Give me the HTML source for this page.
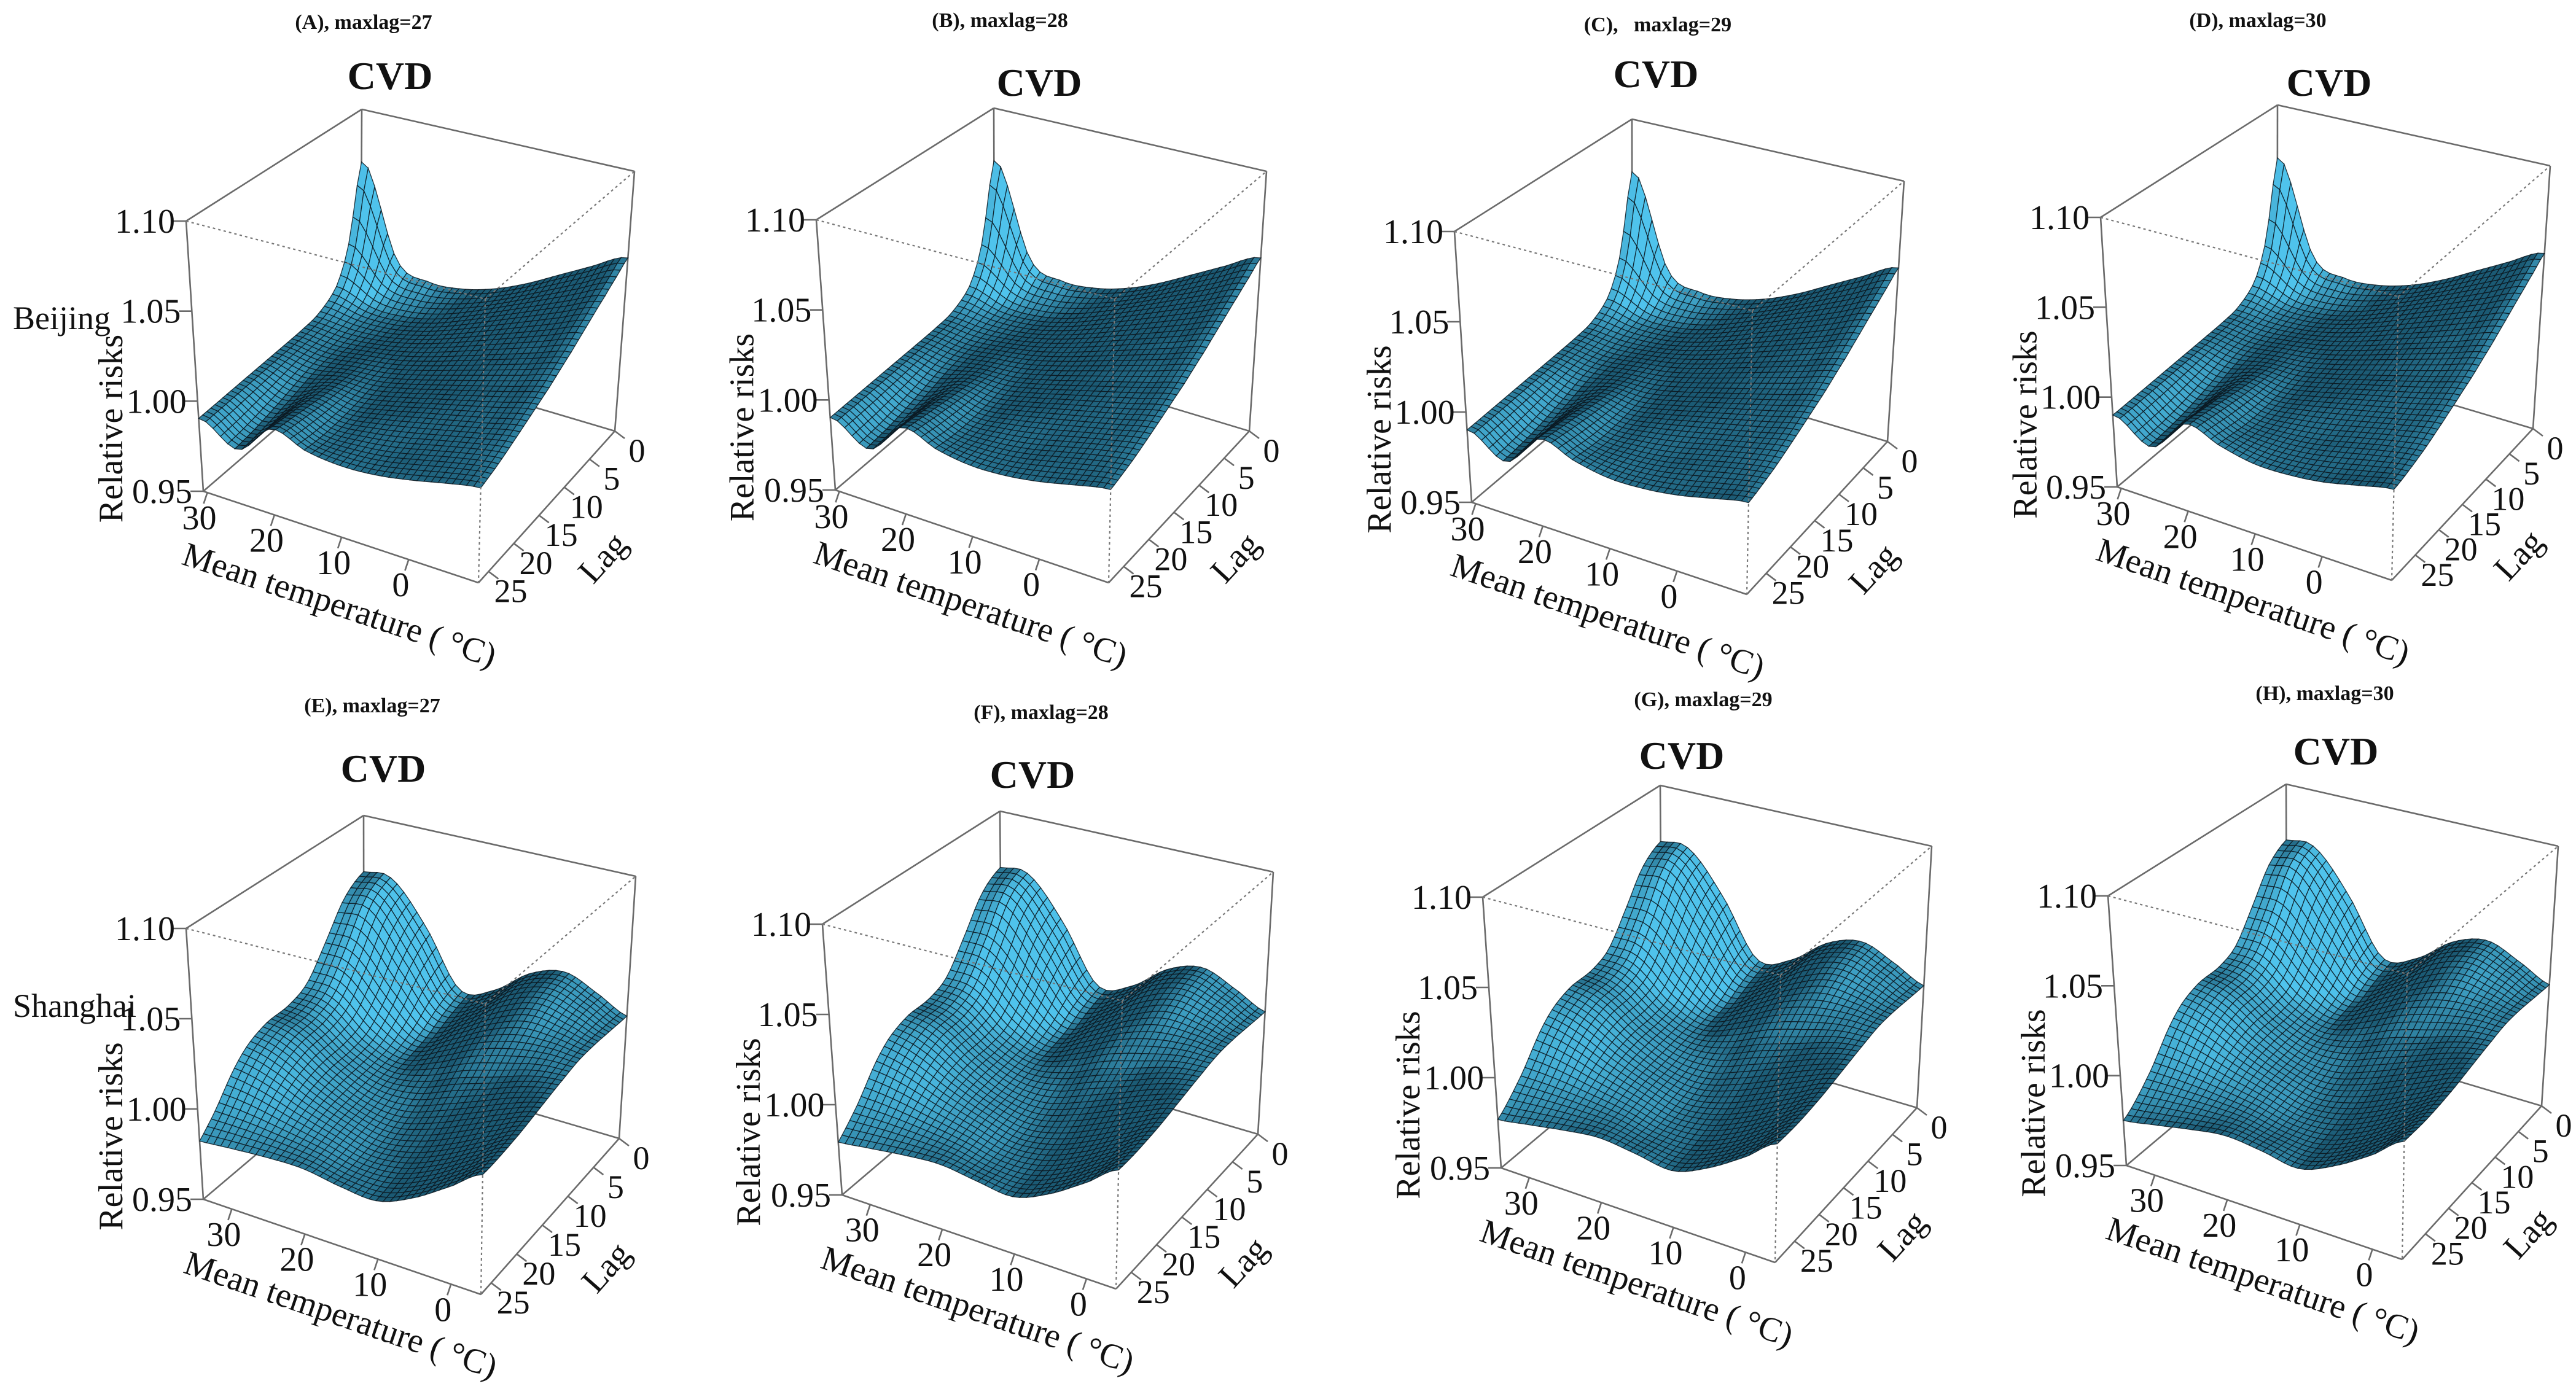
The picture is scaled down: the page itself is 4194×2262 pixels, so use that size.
<!DOCTYPE html>
<html>
<head>
<meta charset="utf-8">
<style>
  html,body{margin:0;padding:0;background:#fff;}
  svg{display:block;}
  text{font-family:"Liberation Serif","Times New Roman",serif;fill:#111;}
</style>
</head>
<body>
<svg id="fig" xmlns="http://www.w3.org/2000/svg" width="4194" height="2262" viewBox="0 0 4194 2262">
  <rect x="0" y="0" width="4194" height="2262" fill="#fff"/>
</svg>
<script>
// ---------- data: Beijing (rows = lags, columns = temperatures) ----------
const tempsBJ = [-10, -5, 0, 5, 10, 15, 20, 25, 30];
const lagsBJ  = [0, 2, 4, 7, 10, 14, 19, 24, 30];
const rrBJ = [
  [1.050,1.040,1.030,1.020,1.012,1.007,1.006,1.014,1.068],
  [1.045,1.036,1.027,1.018,1.010,1.004,1.001,1.004,1.024],
  [1.040,1.032,1.024,1.016,1.008,1.001,0.997,0.997,1.004],
  [1.033,1.026,1.019,1.012,1.005,0.999,0.995,0.994,0.996],
  [1.026,1.020,1.014,1.008,1.002,0.997,0.994,0.992,0.994],
  [1.018,1.013,1.008,1.003,0.998,0.994,0.993,0.990,0.993],
  [1.010,1.006,1.002,0.998,0.994,0.991,0.994,0.985,0.992],
  [1.003,1.000,0.996,0.992,0.990,0.990,0.996,0.981,0.991],
  [0.998,0.994,0.990,0.988,0.988,0.992,0.998,0.979,0.990]
];
// ---------- data: Shanghai ----------
const tempsSH = [-4, 0, 5, 10, 15, 20, 25, 30, 34];
const lagsSH  = [0, 3, 6, 9, 12, 16, 20, 25, 30];
const rrSH = [
  [1.020,1.028,1.036,1.030,1.015,1.010,1.042,1.066,1.066],
  [1.021,1.028,1.034,1.028,1.013,1.006,1.032,1.058,1.058],
  [1.022,1.026,1.029,1.022,1.010,1.000,1.016,1.038,1.040],
  [1.022,1.023,1.021,1.015,1.005,0.997,1.005,1.022,1.024],
  [1.020,1.018,1.012,1.006,0.998,0.995,1.002,1.016,1.019],
  [1.017,1.012,1.004,0.996,0.990,0.992,1.001,1.014,1.018],
  [1.014,1.006,0.996,0.988,0.985,0.990,0.997,1.006,1.010],
  [1.012,1.002,0.990,0.982,0.982,0.986,0.988,0.989,0.989],
  [1.012,1.000,0.988,0.980,0.983,0.985,0.982,0.978,0.975]
];
// ---------- tick labels ----------
const tempTicks = [30, 20, 10, 0];
const lagTicks  = [0, 5, 10, 15, 20, 25];
const rrTicks   = [0.95, 1.00, 1.05, 1.10];
const rrTickLabels = ["0.95", "1.00", "1.05", "1.10"];
const panelTitles = ["(A), maxlag=27","(B), maxlag=28","(C),   maxlag=29","(D), maxlag=30",
                     "(E), maxlag=27","(F), maxlag=28","(G), maxlag=29","(H), maxlag=30"];
const maxLags = [27, 28, 29, 30, 27, 28, 29, 30];

// ---------- layout (screen geometry of each perspective box) ----------
const layout = [
 {city:'BJ',label:'Beijing', t:[592,47], c:[635,145], Lt:[303,360],Bt:[589,178],Rt:[1033,279],Xt:[790,487],Lb:[331,800],Fb:[779,949],Rb:[1001,702]},
 {city:'BJ',label:null, t:[1628,44], c:[1692,156], Lt:[1329,358],Bt:[1618,176],Rt:[2062,279],Xt:[1815,487],Lb:[1360,798],Fb:[1805,949],Rb:[2034,702]},
 {city:'BJ',label:null, t:[2699,51], c:[2696,142], Lt:[2368,377],Bt:[2657,194],Rt:[3100,295],Xt:[2853,506],Lb:[2396,818],Fb:[2844,968],Rb:[3073,719]},
 {city:'BJ',label:null, t:[3676,44], c:[3792,156], Lt:[3420,354],Bt:[3708,171],Rt:[4152,270],Xt:[3905,483],Lb:[3447,793],Fb:[3894,945],Rb:[4124,698]},
 {city:'SH',label:'Shanghai', t:[606,1160], c:[624,1273], Lt:[303,1512],Bt:[592,1328],Rt:[1035,1427],Xt:[790,1635],Lb:[331,1953],Fb:[783,2108],Rb:[1008,1854]},
 {city:'SH',label:null, t:[1695,1171], c:[1681,1283], Lt:[1339,1505],Bt:[1628,1321],Rt:[2073,1420],Xt:[1827,1630],Lb:[1371,1946],Fb:[1817,2099],Rb:[2048,1847]},
 {city:'SH',label:null, t:[2773,1150], c:[2738,1252], Lt:[2414,1461],Bt:[2703,1279],Rt:[3145,1378],Xt:[2899,1588],Lb:[2444,1902],Fb:[2890,2056],Rb:[3121,1804]},
 {city:'SH',label:null, t:[3785,1140], c:[3803,1245], Lt:[3432,1459],Bt:[3722,1277],Rt:[4165,1378],Xt:[3919,1586],Lb:[3462,1898],Fb:[3911,2051],Rb:[4138,1801]}
];
const tempRange = {BJ:[-10.4, 30.6], SH:[-4.1, 33.9]};
const zMin = 0.95, zMax = 1.10;

const NS = "http://www.w3.org/2000/svg";
const svg = document.getElementById('fig');

function el(tag, parent){ const e = document.createElementNS(NS, tag); parent.appendChild(e); return e; }

function cr(p0,p1,p2,p3,t){
  return 0.5*((2*p1)+(-p0+p2)*t+(2*p0-5*p1+4*p2-p3)*t*t+(-p0+3*p1-3*p2+p3)*t*t*t);
}
function seg(knots, x){
  let i = 0;
  if (x <= knots[0]) return [0, 0];
  if (x >= knots[knots.length-1]) return [knots.length-2, 1];
  while (i < knots.length-2 && x > knots[i+1]) i++;
  return [i, (x-knots[i])/(knots[i+1]-knots[i])];
}
function interp1(vals, knots, x){
  const [i,f] = seg(knots, x), n = vals.length;
  const g = k => vals[Math.max(0, Math.min(n-1, k))];
  return cr(g(i-1), g(i), g(i+1), g(i+2), f);
}
function surf(city, temp, lag){
  const temps = city==='BJ'?tempsBJ:tempsSH, lags = city==='BJ'?lagsBJ:lagsSH, rr = city==='BJ'?rrBJ:rrSH;
  const col = rr.map(row => interp1(row, temps, temp));
  return interp1(col, lags, lag);
}
function lerp(p,q,t){ return [p[0]+(q[0]-p[0])*t, p[1]+(q[1]-p[1])*t]; }
function hexmix(c1,c2,t){
  const a=[parseInt(c1.slice(1,3),16),parseInt(c1.slice(3,5),16),parseInt(c1.slice(5,7),16)];
  const b=[parseInt(c2.slice(1,3),16),parseInt(c2.slice(3,5),16),parseInt(c2.slice(5,7),16)];
  return 'rgb('+a.map((v,i)=>Math.round(v+(b[i]-v)*t)).join(',')+')';
}

layout.forEach((P, pi) => {
  const g = el('g', svg);
  
  
  const maxlag = maxLags[pi];
  const [tmin, tmax] = tempRange[P.city];
  const Bb = [P.Bt[0] + ((P.Lb[0]-P.Lt[0])+(P.Rb[0]-P.Rt[0]))/2*0.93,
              P.Bt[1] + ((P.Lb[1]-P.Lt[1])+(P.Rb[1]-P.Rt[1]))/2*0.93];
  function base(a,b,top){
    const R = top?P.Rt:P.Rb, F = top?P.Xt:P.Fb, L = top?P.Lt:P.Lb, B = top?P.Bt:Bb;
    const p0 = lerp(R, F, b), p1 = lerp(B, L, b);
    return lerp(p0, p1, a);
  }
  function proj(a,b,c){ return lerp(base(a,b,false), base(a,b,true), c); }
  const xA = t => (t - tmin)/(tmax - tmin);
  const yB = l => l / maxlag;
  const zC = z => (z - zMin)/(zMax - zMin);

  function line(p,q,name,dashed){
    const e = el('line', g);
    e.setAttribute('x1',p[0]); e.setAttribute('y1',p[1]); e.setAttribute('x2',q[0]); e.setAttribute('y2',q[1]);
    e.setAttribute('stroke', dashed?'#777':'#6a6a6a');
    e.setAttribute('stroke-width', dashed?'2.2':'2.6');
    if (dashed) e.setAttribute('stroke-dasharray','4 5');
    
    
    return e;
  }
  function text(str, x, y, size, name, opts){
    const e = el('text', g);
    e.setAttribute('x', x); e.setAttribute('y', y);
    e.setAttribute('font-size', size);
    if (opts && opts.anchor) e.setAttribute('text-anchor', opts.anchor);
    if (opts && opts.bold) e.setAttribute('font-weight', 'bold');
    if (opts && opts.rot !== undefined) e.setAttribute('transform', 'rotate('+opts.rot+' '+x+' '+y+')');
    e.style.whiteSpace = 'pre';
    e.textContent = str;
    
    
    return e;
  }

  text(panelTitles[pi], P.t[0], P.t[1], 34, 'panel-title', {anchor:'middle', bold:true});
  text('CVD', P.c[0], P.c[1], 64, 'plot-title', {anchor:'middle', bold:true});
  if (P.label) text(P.label, 21, P.city==='BJ'?536:1656, 54, 'city-label');

  line(P.Lt, P.Bt, 'box-edge'); line(P.Bt, P.Rt, 'box-edge');
  line(P.Bt, Bb, 'box-edge'); line(P.Lb, Bb, 'box-edge'); line(Bb, P.Rb, 'box-edge');
  line(P.Lt, P.Lb, 'box-edge'); line(P.Rt, P.Rb, 'box-edge');
  line(P.Lb, P.Fb, 'x-axis-line'); line(P.Fb, P.Rb, 'lag-axis-line');

  rrTicks.forEach((v, i) => {
    const p = proj(1, 1, zC(v));
    line(p, [p[0]-21, p[1]], 'y-tick');
    text(rrTickLabels[i], p[0]-18, p[1]+19, 56, 'y-tick-label', {anchor:'end'});
  });
  const lm = lerp(P.Lt, P.Lb, 0.5);
  text('Relative risks', lm[0]-118, lm[1]+118, 56, 'y-axis-title', {anchor:'middle', rot:-90});

  tempTicks.forEach(v => {
    const p = proj(xA(v), 1, 0);
    line(p, [p[0]-6, p[1]+18], 'x-tick');
    text(String(v), p[0]-13, p[1]+60, 56, 'x-tick-label', {anchor:'middle'});
  });
  const angT = Math.atan2(P.Fb[1]-P.Lb[1], P.Fb[0]-P.Lb[0])*180/Math.PI;
  const tm = lerp(P.Lb, P.Fb, 0.5);
  text('Mean temperature ( °C)', tm[0]-8, tm[1]+128, 56, 'x-axis-title', {anchor:'middle', rot:angT.toFixed(1)});

  lagTicks.forEach(v => {
    const p = proj(0, yB(v), 0);
    line(p, [p[0]+16, p[1]+12], 'lag-tick');
    text(String(v), p[0]+36, p[1]+50, 54, 'lag-tick-label', {anchor:'middle'});
  });
  const angL = Math.atan2(P.Rb[1]-P.Fb[1], P.Rb[0]-P.Fb[0])*180/Math.PI;
  const lmid = lerp(P.Fb, P.Rb, 0.5);
  text('Lag', lmid[0]+105, lmid[1]+95, 56, 'lag-axis-title', {anchor:'middle', rot:angL.toFixed(1)});

  const N = 40, M = 40;
  const C = [];
  for (let i = 0; i <= N; i++){
    C.push([]);
    const a = i/N, temp = tmin + a*(tmax-tmin);
    for (let j = 0; j <= M; j++){
      const b = j/M, lag = b*maxlag;
      let z = surf(P.city, temp, lag);
      z = Math.max(zMin, Math.min(zMax, z));
      C[i].push(zC(z));
    }
  }
  const cells = [];
  for (let i = 0; i < N; i++) for (let j = 0; j < M; j++) cells.push([i,j, (i+0.5)/N + (1-(j+0.5)/M)]);
  cells.sort((p,q) => q[2]-p[2]);
  const sg = el('g', g);
  
  
  const Lv = [-0.667, 0.667, 0.333];
  cells.forEach(([i,j]) => {
    const c00=C[i][j], c10=C[i+1][j], c01=C[i][j+1], c11=C[i+1][j+1];
    const da = ((c10+c11)-(c00+c01))/2*N, db = ((c01+c11)-(c00+c10))/2*M;
    const nx=-da, ny=-db, nz=1, nl=Math.hypot(nx,ny,nz);
    const d = (nx*Lv[0]+ny*Lv[1]+nz*Lv[2])/nl;
    const t = Math.max(0, Math.min(1, (d-0.28)/0.6));
    const pts = [proj(i/N,j/M,c00), proj((i+1)/N,j/M,c10), proj((i+1)/N,(j+1)/M,c11), proj(i/N,(j+1)/M,c01)];
    const poly = el('polygon', sg);
    poly.setAttribute('points', pts.map(p=>p[0].toFixed(1)+','+p[1].toFixed(1)).join(' '));
    poly.setAttribute('fill', hexmix('#1b5a74', '#4fc3ec', Math.pow(t,0.8)));
    poly.setAttribute('stroke', '#0a1820');
    poly.setAttribute('stroke-width', '1.3');
    poly.setAttribute('stroke-opacity', '0.85');
    
    
  });

  line(P.Lt, P.Xt, 'box-edge-front', true);
  line(P.Xt, P.Rt, 'box-edge-front', true);
  line(P.Xt, P.Fb, 'box-edge-front', true);
});
</script>
</body>
</html>
